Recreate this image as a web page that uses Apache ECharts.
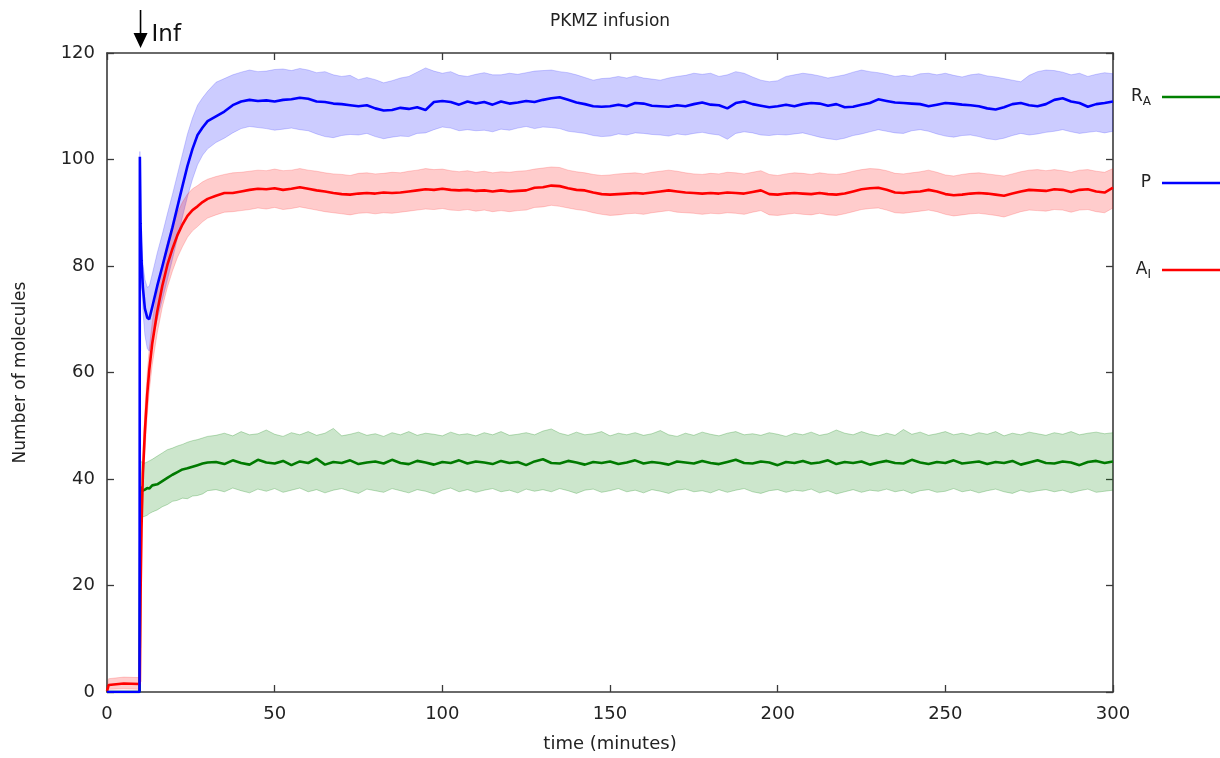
<!DOCTYPE html>
<html>
<head>
<meta charset="utf-8">
<script src="https://cdn.jsdelivr.net/npm/echarts@6/dist/echarts.min.js"></script>
<style>
html,body{margin:0;padding:0;background:#fff;}
#chart{width:1220px;height:758px;}
</style>
</head>
<body>
<div id="chart"></div>
<script>
// ---------- data ----------
var chartTitle = 'PKMZ infusion';
var xTicks = [0, 50, 100, 150, 200, 250, 300];
var yTicks = [0, 20, 40, 60, 80, 100, 120];
var infusionTime = 10;

var time = [
  0, 0.5, 5, 9.7, 9.8, 10, 10.3, 10.7, 11.3, 12, 12.6, 13.5, 15, 16.5, 18, 19.5, 21, 22.5, 24, 25.5, 27, 28.5, 30,
  32.5, 35, 37.5, 40, 42.5, 45, 47.5, 50, 52.5, 55,
  57.5, 60, 62.5, 65, 67.5, 70, 72.5, 75, 77.5, 80,
  82.5, 85, 87.5, 90, 92.5, 95, 97.5, 100, 102.5, 105,
  107.5, 110, 112.5, 115, 117.5, 120, 122.5, 125, 127.5, 130,
  132.5, 135, 137.5, 140, 142.5, 145, 147.5, 150, 152.5, 155,
  157.5, 160, 162.5, 165, 167.5, 170, 172.5, 175, 177.5, 180,
  182.5, 185, 187.5, 190, 192.5, 195, 197.5, 200, 202.5, 205,
  207.5, 210, 212.5, 215, 217.5, 220, 222.5, 225, 227.5, 230,
  232.5, 235, 237.5, 240, 242.5, 245, 247.5, 250, 252.5, 255,
  257.5, 260, 262.5, 265, 267.5, 270, 272.5, 275, 277.5, 280,
  282.5, 285, 287.5, 290, 292.5, 295, 297.5, 300
];

// P (blue)
var pMean = [
  0, 0, 0, 0, 100.5, 88, 81, 76, 72, 70.3, 70, 72.3, 76.3, 79.9, 83.6, 87.2, 91.1, 95, 98.8, 102, 104.6, 106, 107.2,
  108.1, 109.0, 110.2, 110.9, 111.2, 111.0, 111.1, 110.9, 111.2, 111.3,
  111.6, 111.4, 110.9, 110.8, 110.5, 110.4, 110.2, 110.0, 110.2, 109.6,
  109.2, 109.3, 109.7, 109.5, 109.8, 109.3, 110.8, 111.0, 110.8, 110.3,
  110.9, 110.5, 110.8, 110.3, 110.9, 110.5, 110.7, 111.0, 110.8, 111.2,
  111.5, 111.7, 111.2, 110.7, 110.4, 110.0, 109.9, 110.0, 110.3, 110.0,
  110.6, 110.5, 110.1, 110.0, 109.9, 110.2, 110.0, 110.4, 110.7, 110.3,
  110.2, 109.6, 110.6, 110.9, 110.4, 110.1, 109.8, 110.0, 110.3, 110.0,
  110.4, 110.6, 110.5, 110.1, 110.4, 109.8, 109.9, 110.3, 110.6, 111.3,
  111.0, 110.7, 110.6, 110.5, 110.4, 110.0, 110.3, 110.6, 110.5, 110.3,
  110.2, 110.0, 109.6, 109.4, 109.8, 110.4, 110.6, 110.2, 110.0, 110.4,
  111.2, 111.5, 110.9, 110.6, 109.9, 110.4, 110.6, 110.9
];
var pLow = [
  0, 0, 0, 0, 99.5, 85.5, 77.5, 71.5, 67, 64.5, 64, 66, 70, 73.7, 77.4, 81.2, 85.2, 89.2, 93, 96.3, 99, 100.8, 102,
  103.2, 104.0, 105.0, 105.8, 106.2, 106.0, 105.8, 105.5, 105.7, 105.9,
  105.6, 105.4, 104.8, 104.3, 104.1, 104.5, 104.7, 104.6, 104.9, 104.3,
  103.9, 104.2, 104.4, 104.3, 104.9, 105.0, 105.6, 106.1, 105.9, 105.4,
  105.6, 105.4, 105.5, 105.2, 105.7, 105.5, 105.9, 106.2, 105.8, 106.1,
  106.0, 105.8, 105.3, 105.1, 104.9, 104.5, 104.3, 104.4, 104.8, 104.6,
  105.0, 104.9, 104.7, 104.6, 104.4, 104.8, 104.6, 104.9, 105.1, 104.8,
  104.6, 103.8, 104.9, 105.2, 105.0, 104.6, 104.5, 104.7, 104.6, 104.8,
  105.0, 104.6, 104.2, 103.9, 103.7, 104.0, 104.5, 104.8, 105.2, 105.6,
  105.3, 105.0, 104.9, 105.4, 105.6, 105.3, 104.8, 104.4, 104.2, 104.5,
  104.6, 104.3, 103.9, 103.7, 104.0, 104.5, 104.9, 104.6, 104.8, 105.1,
  105.3, 105.6, 105.2, 104.9, 105.1, 105.3, 105.0, 105.3
];
var pHigh = [
  0, 0, 0, 0, 101.5, 90.5, 84.5, 80.5, 77.5, 76, 76.2, 78.5, 82.5, 86, 89.8, 93.4, 97.2, 101, 104.8, 107.8, 110.2, 111.6, 112.8,
  114.5, 115.2, 115.9, 116.4, 116.8, 116.5, 116.6, 116.9, 117.0, 116.7,
  117.1, 116.8, 116.3, 116.5, 115.9, 115.6, 115.8, 115.0, 115.4, 115.0,
  114.4, 114.8, 115.3, 115.6, 116.4, 117.2, 116.6, 116.2, 116.5, 115.8,
  115.6, 116.0, 116.3, 115.9, 115.9, 116.2, 116.0, 116.3, 116.6, 116.7,
  116.8, 116.5, 116.3, 115.9, 115.4, 114.9, 115.2, 115.3, 115.6, 115.3,
  115.7, 115.3, 115.1, 114.9, 115.3, 115.6, 115.8, 116.2, 116.0, 116.2,
  115.6, 115.9, 116.5, 116.2, 115.5, 114.9, 114.6, 114.8, 115.6, 115.9,
  116.2, 116.0, 115.7, 115.3, 115.6, 115.9, 116.4, 116.8, 116.5, 116.3,
  116.0, 115.6, 115.8, 115.6, 116.1, 116.2, 115.9, 116.2, 115.8, 115.5,
  115.9, 116.1, 115.7, 115.5, 115.2, 114.9, 114.6, 115.8, 116.5, 116.8,
  116.7, 116.4, 115.9, 116.2, 115.6, 116.0, 116.3, 116.1
];

// A_I (red)
var aMean = [
  0.2, 1.3, 1.6, 1.5, 2, 18, 31, 41, 49, 56, 60.5, 65.5, 71.5, 76.3, 80.2, 83.2, 85.8, 87.8, 89.4, 90.5, 91.2, 92, 92.6,
  93.2, 93.7, 93.7, 94.0, 94.3, 94.5, 94.4, 94.6, 94.3, 94.5,
  94.8, 94.5, 94.2, 94.0, 93.7, 93.5, 93.4, 93.6, 93.7, 93.6,
  93.8, 93.7, 93.8, 94.0, 94.2, 94.4, 94.3, 94.5, 94.3, 94.2,
  94.3, 94.1, 94.2, 94.0, 94.2, 94.0, 94.1, 94.2, 94.7, 94.8,
  95.1, 95.0, 94.6, 94.3, 94.2, 93.8, 93.5, 93.4, 93.5, 93.6,
  93.7, 93.6, 93.8, 94.0, 94.2, 94.0, 93.8, 93.7, 93.6, 93.7,
  93.6, 93.8, 93.7, 93.6, 93.9, 94.2, 93.5, 93.4, 93.6, 93.7,
  93.6, 93.5, 93.7, 93.5, 93.4, 93.6, 94.0, 94.4, 94.6, 94.7,
  94.3, 93.8, 93.7, 93.9, 94.0, 94.3, 94.0, 93.5, 93.3, 93.4,
  93.6, 93.7, 93.6, 93.4, 93.2, 93.6, 94.0, 94.3, 94.2, 94.1,
  94.4, 94.3, 93.9, 94.3, 94.4, 94.0, 93.8, 94.7
];
var aLow = [
  0, 0.5, 0.6, 0.5, 1, 15.5, 28, 37.5, 45, 52, 56.5, 61.5, 67.5, 72.3, 76, 79, 81.6, 83.6, 85.4, 86.6, 87.4, 88.3, 89,
  89.6, 90.1, 90.2, 90.4, 90.6, 90.9, 90.7, 91.0, 90.6, 90.8,
  91.1, 90.8, 90.5, 90.2, 90.0, 89.8, 89.6, 89.9, 90.0, 89.8,
  90.0, 89.9, 90.1, 90.3, 90.5, 90.7, 90.6, 90.8, 90.5, 90.4,
  90.6, 90.3, 90.5, 90.2, 90.4, 90.2, 90.4, 90.5, 91.0, 91.1,
  91.4, 91.2, 90.9, 90.6, 90.4, 90.0, 89.7, 89.5, 89.6, 89.8,
  89.9, 89.7, 90.0, 90.2, 90.4, 90.1, 90.0, 89.9, 89.7, 89.9,
  89.8, 90.0, 89.9, 89.7, 90.1, 90.4, 89.6, 89.5, 89.7, 89.9,
  89.7, 89.6, 89.9, 89.6, 89.5, 89.8, 90.2, 90.6, 90.8, 90.9,
  90.5, 90.0, 89.9, 90.1, 90.3, 90.5, 90.2, 89.7, 89.4, 89.6,
  89.8, 89.9, 89.7, 89.5, 89.2, 89.7, 90.2, 90.5, 90.4, 90.3,
  90.6, 90.5, 90.1, 90.5, 90.6, 90.2, 90.0, 90.9
];
var aHigh = [
  0.5, 2.5, 2.8, 2.7, 3, 20.5, 34, 44.5, 53, 60, 64.5, 69.5, 75.5, 80.4, 84.4, 87.4, 90, 92, 93.5, 94.5, 95.1, 95.8, 96.3,
  96.8, 97.2, 97.5, 97.6, 97.8, 98.0, 97.9, 98.2, 97.9, 98.0,
  98.3, 98.0, 97.8, 97.5, 97.3, 97.2, 97.0, 97.4, 97.5, 97.3,
  97.4, 97.6, 97.5, 97.8, 98.0, 98.3, 98.1, 98.2, 97.9, 97.7,
  97.9, 97.6, 97.8, 97.5, 97.7, 97.6, 97.8, 97.9, 98.2, 98.4,
  98.6, 98.5, 98.0, 97.7, 97.5, 97.2, 97.0, 97.1, 97.3, 97.4,
  97.5, 97.3, 97.6, 97.8, 98.0, 97.8, 97.5, 97.3, 97.2, 97.4,
  97.3, 97.6, 97.5, 97.3, 97.6, 97.9, 97.2, 97.0, 97.3, 97.5,
  97.4, 97.2, 97.5, 97.3, 97.2, 97.4, 97.8, 98.1, 98.3, 98.2,
  97.9, 97.4, 97.3, 97.5, 97.7, 98.0, 97.6, 97.1, 96.9, 97.2,
  97.4, 97.5, 97.3, 97.1, 96.9, 97.3, 97.7, 98.0, 98.1, 97.9,
  98.1, 97.9, 97.6, 98.0, 98.1, 97.8, 97.6, 98.3
];

// R_A (green)
var rMean = [
  0, 0, 0, 0, 0, 38.5, 38.3, 37.8, 38.0, 38.3, 38.2, 38.8, 39.0, 39.6, 40.2, 40.8, 41.3, 41.8, 42.0, 42.3, 42.6, 42.9, 43.1,
  43.2, 42.8, 43.5, 43.0, 42.7, 43.6, 43.1, 42.9, 43.4, 42.6,
  43.3, 43.0, 43.8, 42.7, 43.2, 43.0, 43.5, 42.8, 43.1, 43.3,
  42.9, 43.6, 43.0, 42.8, 43.4, 43.1, 42.7, 43.2, 43.0, 43.5,
  42.9, 43.3, 43.1, 42.8, 43.4, 43.0, 43.2, 42.6, 43.3, 43.7,
  43.0, 42.9, 43.4, 43.1, 42.7, 43.2, 43.0, 43.3, 42.8, 43.1,
  43.5, 42.9, 43.2, 43.0, 42.7, 43.3, 43.1, 42.9, 43.4, 43.0,
  42.8, 43.2, 43.6, 43.0, 42.9, 43.3, 43.1, 42.6, 43.2, 43.0,
  43.4, 42.9, 43.1, 43.5, 42.8, 43.2, 43.0, 43.3, 42.7, 43.1,
  43.4, 43.0, 42.9, 43.6, 43.1, 42.8, 43.2, 43.0, 43.5, 42.9,
  43.1, 43.3, 42.8, 43.2, 43.0, 43.4, 42.7, 43.1, 43.5, 43.0,
  42.9, 43.3, 43.1, 42.6, 43.2, 43.4, 43.0, 43.3
];
var rLow = [
  0, 0, 0, 0, 0, 32.8, 32.6, 32.9, 33.0, 33.2, 33.5, 33.8, 34.2, 34.8, 35.2, 35.8, 36.0, 36.4, 36.3, 36.8, 36.9, 37.2, 37.8,
  38.0, 37.6, 38.3, 37.8, 37.4, 38.1, 37.7, 38.2, 37.5, 37.9,
  38.3, 37.6, 38.0, 37.4, 37.9, 38.2, 37.7, 37.3, 38.1, 37.8,
  37.5, 38.2, 37.8, 37.4, 38.0, 37.7, 37.2, 37.9, 38.3, 37.6,
  38.0, 37.5, 37.9, 38.2, 37.6, 37.9, 37.4, 38.1, 37.7, 38.0,
  37.6, 38.2, 37.8, 37.3, 37.9, 38.1, 37.5, 37.8, 38.2, 37.6,
  37.9, 37.4, 38.0, 37.7, 37.3, 37.9, 38.1, 37.6, 37.8, 37.4,
  38.0, 37.5, 37.9, 38.2, 37.6, 37.3, 37.8, 38.0, 37.5, 37.9,
  37.7, 38.1, 37.4, 37.8, 37.2, 37.6, 38.0, 37.5, 37.9, 37.7,
  38.1, 37.6, 37.9, 37.3, 37.8, 38.0, 37.5, 37.7, 38.2, 37.6,
  37.9, 37.4, 37.8, 38.1, 37.6, 37.3, 37.9, 37.5, 37.8, 38.0,
  37.6, 37.9, 37.4, 37.8, 38.1, 37.5, 37.7, 37.9
];
var rHigh = [
  0, 0, 0, 0, 0, 43.5, 43.2, 42.9, 43.0, 43.2, 43.4, 43.7, 44.3, 44.9, 45.5, 45.8, 46.2, 46.5, 46.9, 47.2, 47.4, 47.7, 48.0,
  48.2, 48.6, 48.1, 48.9, 48.3, 48.5, 49.2, 48.4, 48.0, 48.7,
  48.3, 48.9, 48.2, 48.6, 49.5, 48.1, 48.4, 48.8, 48.2, 48.5,
  48.0, 48.7, 48.3, 48.9, 48.2, 48.6, 48.4, 48.1, 48.8, 48.3,
  48.5, 48.1, 48.7, 48.3, 48.9, 48.2, 48.4, 48.7, 48.3, 49.0,
  49.4, 48.6, 48.2, 48.8, 48.3, 48.5, 48.9, 48.1, 48.6, 48.3,
  48.7, 48.2, 48.5, 49.1, 48.3, 48.0, 48.6, 48.2, 48.8, 48.4,
  48.1, 48.6, 48.9, 48.3, 48.5, 48.2, 48.7, 48.4, 48.0, 48.6,
  48.3, 48.8, 48.2, 48.5, 49.2, 48.6, 48.3, 48.9, 48.4, 48.1,
  48.6, 48.2, 49.3, 48.4, 48.8, 48.2, 48.5, 48.9, 48.3, 48.6,
  48.2, 48.7, 48.4, 48.9, 48.1, 48.6, 48.3, 48.8, 48.5, 48.2,
  48.7, 48.4, 48.9, 48.3, 48.6, 48.8, 48.5, 48.7
];

// ---------- build ----------
function pairs(v) { return time.map(function (t, i) { return [t, v[i]]; }); }

var FONT = 'DejaVu Sans';
var TXT = '#222';
var AX = '#3a3a3a';

var groups = [
  { key: 'P', mean: pMean, lo: pLow, hi: pHigh, line: '#0000ff', fill: 'rgba(0,0,255,0.2)', edge: 'rgba(0,0,255,0.18)' },
  { key: 'AI', mean: aMean, lo: aLow, hi: aHigh, line: '#ff0000', fill: 'rgba(255,0,0,0.2)', edge: 'rgba(255,0,0,0.18)' },
  { key: 'RA', mean: rMean, lo: rLow, hi: rHigh, line: '#007a00', fill: 'rgba(0,128,0,0.2)', edge: 'rgba(0,128,0,0.25)' }
];

function bandSeries(g) {
  // one data item per sample, polygon drawn once through the axis scales
  var data = time.map(function (t, i) { return [t, g.lo[i], g.hi[i]]; });
  return {
    type: 'custom', name: g.key + ' band', z: 1, silent: true,
    data: data,
    encode: { x: 0, y: [1, 2] },
    clip: true,
    renderItem: function (params, api) {
      if (params.dataIndex !== 0) return null;
      var upper = [], lower = [];
      for (var i = 0; i < data.length; i++) {
        upper.push(api.coord([data[i][0], data[i][2]]));
        lower.push(api.coord([data[i][0], data[i][1]]));
      }
      var poly = upper.concat(lower.slice().reverse());
      var cs = params.coordSys;
      return {
        type: 'group',
        clipPath: { type: 'rect', shape: { x: cs.x, y: cs.y, width: cs.width, height: cs.height } },
        children: [
          { type: 'polygon', shape: { points: poly }, style: { fill: g.fill, stroke: null } },
          { type: 'polyline', shape: { points: upper }, style: { fill: null, stroke: g.edge, lineWidth: 1 } },
          { type: 'polyline', shape: { points: lower }, style: { fill: null, stroke: g.edge, lineWidth: 1 } }
        ]
      };
    }
  };
}

var series = [];
groups.forEach(function (g) { series.push(bandSeries(g)); });
[groups[2], groups[1], groups[0]].forEach(function (g) {
  series.push({
    type: 'line', name: g.key, data: pairs(g.mean),
    showSymbol: false, symbol: 'none', z: 3,
    lineStyle: { color: g.line, width: 2.6 }
  });
});

function axisCommon() {
  return {
    axisLine: { show: true, onZero: false, lineStyle: { color: AX, width: 1.6 } },
    axisTick: { show: true, inside: true, length: 7, lineStyle: { color: AX, width: 1.3 } },
    splitLine: { show: false }
  };
}

var xMain = Object.assign(axisCommon(), {
  type: 'value', min: xTicks[0], max: xTicks[xTicks.length - 1], interval: xTicks[1] - xTicks[0],
  position: 'bottom',
  name: 'time (minutes)', nameLocation: 'middle', nameGap: 43,
  nameTextStyle: { fontFamily: FONT, fontSize: 18, color: TXT },
  axisLabel: { margin: 13, fontFamily: FONT, fontSize: 18, color: TXT }
});
var xTop = Object.assign(axisCommon(), {
  type: 'value', min: xTicks[0], max: xTicks[xTicks.length - 1], interval: xTicks[1] - xTicks[0],
  position: 'top', axisLabel: { show: false }
});
var yMain = Object.assign(axisCommon(), {
  type: 'value', min: yTicks[0], max: yTicks[yTicks.length - 1], interval: yTicks[1] - yTicks[0],
  position: 'left',
  name: 'Number of molecules', nameLocation: 'middle', nameGap: 78, nameRotate: 90,
  nameTextStyle: { fontFamily: FONT, fontSize: 17, color: TXT },
  axisLabel: { margin: 12, fontFamily: FONT, fontSize: 18, color: TXT }
});
var yRight = Object.assign(axisCommon(), {
  type: 'value', min: yTicks[0], max: yTicks[yTicks.length - 1], interval: yTicks[1] - yTicks[0],
  position: 'right', axisLabel: { show: false }
});

var chart = echarts.init(document.getElementById('chart'), null, { renderer: 'canvas' });
chart.setOption({
  animation: false,
  backgroundColor: '#fff',
  title: {
    text: chartTitle, left: 'center', top: 8,
    textStyle: { fontFamily: FONT, fontSize: 17, fontWeight: 'normal', color: TXT }
  },
  grid: { left: 107, right: 107, top: 53, bottom: 65, containLabel: false },
  xAxis: [xMain, xTop],
  yAxis: [yMain, yRight],
  series: series
});

// legend (outside the plot, on the right) and infusion marker
var legendItems = [
  { label: '{m|R}{s|A}', color: '#008000', y: 97 },
  { label: '{m|P}', color: '#0000ff', y: 183 },
  { label: '{m|A}{s|I}', color: '#ff0000', y: 270 }
];
var infX = chart.convertToPixel({ xAxisIndex: 0 }, infusionTime);
var graphics = [];
legendItems.forEach(function (it) {
  graphics.push({
    type: 'text', x: 1151, y: it.y, silent: true,
    style: {
      text: it.label, align: 'right', verticalAlign: 'middle',
      rich: {
        m: { fontFamily: FONT, fontSize: 17, fill: TXT, color: TXT },
        s: { fontFamily: FONT, fontSize: 12, fill: TXT, color: TXT, padding: [9, 0, 0, 0] }
      }
    }
  });
  graphics.push({
    type: 'line', silent: true,
    shape: { x1: 1162, y1: it.y, x2: 1220, y2: it.y },
    style: { stroke: it.color, lineWidth: 2.6 }
  });
});
graphics.push({
  type: 'line', silent: true,
  shape: { x1: infX, y1: 10, x2: infX, y2: 38 },
  style: { stroke: '#000', lineWidth: 1.6 }
});
graphics.push({
  type: 'polygon', silent: true,
  shape: { points: [[infX - 7, 33], [infX + 7, 33], [infX, 48]] },
  style: { fill: '#000' }
});
graphics.push({
  type: 'text', x: infX + 11, y: 35, silent: true,
  style: { text: 'Inf', fontFamily: FONT, fontSize: 23, fill: '#111', verticalAlign: 'middle', align: 'left' }
});
chart.setOption({ graphic: graphics });
</script>
</body>
</html>
